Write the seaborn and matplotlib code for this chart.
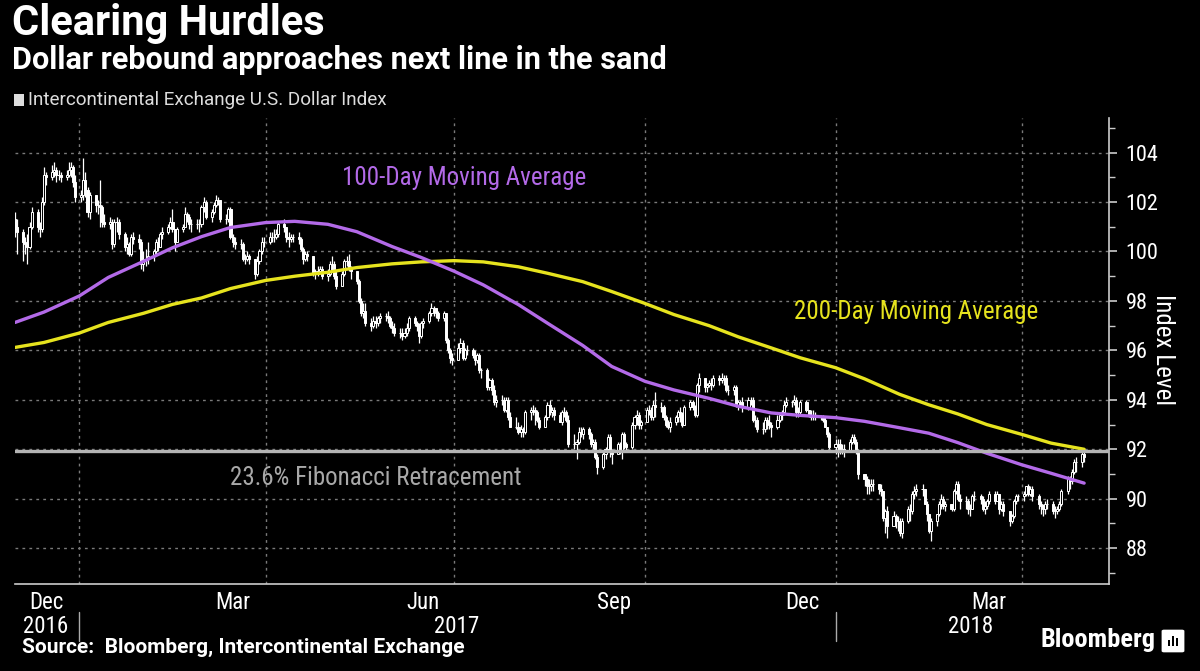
import numpy as np
import pandas as pd
import matplotlib
matplotlib.use('Agg')
import matplotlib.pyplot as plt
import matplotlib.dates as mdates
import matplotlib.transforms as mtransforms
from matplotlib import font_manager
from matplotlib.patches import Rectangle, FancyBboxPatch
import seaborn as sns

# ICE U.S. Dollar Index, daily bars (business days from 2016-12-01)
first_open = 101.3
close_px = [
    101.0, 100.8, 100.4, 100.3, 100.2, 101.0, 101.6, 101.0, 100.9, 102.0, 103.1, 103.0, 103.2, 103.3, 103.1, 103.1, 103.0, 103.1, 103.3, 103.4, 102.8, 102.2,
    102.3, 102.9, 102.5, 101.6, 102.3, 101.9, 101.9, 101.8, 101.2, 101.1, 101.2, 100.3, 101.2, 101.2, 100.7, 100.2, 100.3, 99.9, 100.6, 100.5, 100.4, 99.5,
    99.7, 99.7, 99.8, 100.0, 100.4, 100.2, 100.7, 100.8, 101.0, 101.2, 100.9, 100.4, 100.9, 101.0, 101.5, 101.4, 101.1, 101.1, 101.1, 101.1,
    101.8, 102.0, 101.4, 101.6, 101.9, 102.1, 102.1, 101.3, 101.3, 101.7, 100.6, 100.4, 100.3, 100.3, 99.7, 99.7, 99.8, 99.7, 99.1, 99.6, 100.0, 100.4, 100.4,
    100.6, 100.6, 100.6, 100.7, 101.1, 101.0, 100.6, 100.5, 100.6, 100.6, 100.5, 100.1, 99.7, 99.9, 99.8, 99.1, 99.1, 99.2, 99.3, 99.0,
    99.1, 99.5, 99.5, 99.0, 98.6, 99.1, 99.6, 99.6, 99.3, 99.2, 98.8, 98.0, 97.5, 97.6, 97.1, 97.0, 97.2, 97.1, 97.3, 97.4, 97.4, 97.3, 97.0,
    96.9, 96.7, 96.7, 96.6, 96.7, 96.9, 97.3, 97.1, 97.0, 96.6, 97.1, 97.2, 97.5, 97.7, 97.7, 97.5, 97.3, 97.5, 96.4, 96.0, 95.7, 95.6,
    96.1, 96.3, 95.7, 96.0, 96.0, 95.8, 95.6, 95.8, 95.2, 95.2, 94.5, 94.8, 94.4, 93.9, 94.0, 94.0, 93.6, 94.0, 93.3, 92.9, 92.9,
    92.7, 92.8, 92.7, 93.5, 93.6, 93.6, 93.5, 93.2, 92.9, 93.3, 93.8, 93.5, 93.6, 93.4, 93.1, 93.5, 93.5, 93.2, 92.2, 92.2, 92.3, 92.7, 92.6,
    92.8, 92.6, 92.2, 92.3, 91.7, 91.3, 91.8, 92.0, 92.5, 91.9, 91.8, 92.2, 91.9, 92.6, 92.2, 92.1, 93.0, 93.3, 93.4, 93.0, 93.1,
    93.6, 93.6, 93.3, 93.8, 93.7, 93.7, 93.3, 93.0, 92.9, 93.1, 93.3, 93.5, 93.4, 93.0, 93.7, 93.9, 93.7, 93.4, 94.6, 94.9, 94.5, 94.6,
    94.7, 94.6, 94.9, 94.8, 94.9, 94.9, 94.4, 94.4, 94.5, 93.8, 93.9, 93.9, 93.7, 94.0, 94.0, 93.2, 93.2, 92.8, 92.8, 93.2, 93.1, 93.0,
    92.9, 93.2, 93.4, 93.5, 93.8, 93.9, 93.9, 94.0, 93.5, 93.5, 93.9, 93.6, 93.4, 93.3, 93.4, 93.3, 93.3, 93.2, 92.9, 92.6, 92.1,
    92.2, 92.2, 91.9, 92.0, 91.9, 92.3, 92.5, 92.3, 91.9, 91.0, 90.8, 90.5, 90.5, 90.6, 90.6, 90.4, 90.3, 89.2, 89.5, 88.9, 89.3, 89.1, 89.1,
    88.6, 89.1, 89.6, 89.5, 90.2, 90.3, 90.4, 90.4, 89.8, 89.4, 88.7, 89.1, 89.4, 89.8, 90.0, 89.7, 89.8, 89.6, 90.3, 90.6,
    90.0, 89.9, 89.9, 89.6, 89.6, 90.1, 90.1, 90.0, 89.6, 89.7, 89.9, 90.2, 89.9, 90.2, 89.6, 89.8, 89.5, 89.1, 89.3, 89.9, 90.1, 90.1,
    90.2, 90.5, 90.2, 90.4, 90.1, 89.8, 89.7, 89.6, 89.8, 89.8, 89.5, 89.5, 89.6, 89.8, 90.3, 90.8, 90.7, 91.1, 91.5, 91.5, 91.8, 91.7,
]
high_px = [
    101.6, 101.3, 100.9, 100.6, 100.7, 101.2, 101.8, 101.7, 101.2, 102.2, 103.4, 103.2, 103.5, 103.6, 103.4, 103.3, 103.2, 103.3, 103.6, 103.6, 103.5, 103.1,
    102.5, 103.8, 103.2, 102.6, 102.4, 102.3, 102.1, 102.9, 101.9, 101.5, 101.4, 101.3, 101.3, 101.4, 101.3, 100.8, 100.6, 100.4, 100.7, 100.8, 100.7, 100.5,
    100.0, 100.1, 100.4, 100.1, 100.5, 100.6, 100.8, 101.0, 101.1, 101.4, 101.7, 100.9, 101.0, 101.1, 101.8, 101.6, 101.5, 101.3, 101.3, 101.3,
    101.9, 102.2, 102.1, 101.7, 102.0, 102.3, 102.2, 102.1, 101.5, 101.8, 101.8, 100.7, 100.6, 100.5, 100.4, 99.9, 100.0, 99.9, 99.6, 99.8, 100.1, 100.6, 100.6,
    100.8, 100.8, 100.9, 100.9, 101.2, 101.3, 101.0, 100.8, 100.7, 100.7, 100.8, 100.6, 100.2, 100.0, 100.0, 99.8, 99.3, 99.4, 99.4, 99.4,
    99.3, 99.6, 99.8, 99.6, 99.2, 99.2, 99.7, 99.8, 99.9, 99.4, 99.2, 98.9, 98.1, 97.9, 97.9, 97.3, 97.4, 97.4, 97.4, 97.5, 97.5, 97.6, 97.4,
    97.2, 97.1, 96.9, 96.9, 96.9, 97.1, 97.4, 97.4, 97.2, 97.1, 97.2, 97.3, 97.6, 97.9, 97.8, 97.7, 97.6, 97.6, 97.5, 96.5, 96.1, 95.9,
    96.3, 96.5, 96.4, 96.1, 96.2, 96.1, 96.0, 95.9, 95.9, 95.3, 95.3, 94.9, 94.9, 94.6, 94.2, 94.2, 94.1, 94.1, 94.1, 93.5, 93.3,
    93.1, 93.0, 92.9, 93.6, 93.7, 93.8, 93.7, 93.6, 93.3, 93.4, 93.9, 94.0, 93.7, 93.7, 93.5, 93.6, 93.7, 93.6, 93.4, 92.6, 92.4, 92.9, 92.9,
    92.9, 92.9, 92.7, 92.4, 92.4, 91.8, 91.9, 92.1, 92.6, 92.6, 92.0, 92.3, 92.3, 92.7, 92.7, 92.3, 93.1, 93.4, 93.6, 93.5, 93.2,
    93.7, 93.8, 93.7, 94.0, 94.3, 93.9, 93.8, 93.4, 93.2, 93.3, 93.4, 93.6, 93.7, 93.5, 93.8, 94.0, 94.0, 93.8, 94.7, 95.1, 94.9, 94.7,
    94.8, 94.9, 95.0, 95.0, 95.1, 95.0, 95.0, 94.6, 94.6, 94.6, 94.0, 94.0, 94.1, 94.1, 94.1, 94.1, 93.4, 93.3, 93.1, 93.3, 93.3, 93.4,
    93.1, 93.4, 93.5, 93.6, 94.0, 94.1, 94.0, 94.2, 94.1, 93.7, 94.0, 94.0, 93.6, 93.6, 93.6, 93.5, 93.4, 93.4, 93.3, 92.9, 92.7,
    92.4, 92.4, 92.4, 92.2, 92.2, 92.4, 92.6, 92.6, 92.4, 92.0, 91.0, 90.9, 90.8, 90.8, 90.8, 90.6, 90.6, 90.3, 89.6, 89.7, 89.5, 89.4, 89.3,
    89.2, 89.2, 89.7, 89.8, 90.3, 90.5, 90.6, 90.6, 90.4, 89.9, 89.4, 89.2, 89.4, 89.9, 90.2, 90.1, 89.9, 89.8, 90.4, 90.7,
    90.7, 90.2, 90.1, 90.0, 89.8, 90.2, 90.3, 90.2, 90.1, 89.9, 90.0, 90.3, 90.3, 90.3, 90.2, 89.9, 89.9, 89.5, 89.4, 90.0, 90.2, 90.2,
    90.3, 90.5, 90.6, 90.5, 90.5, 90.2, 89.9, 89.8, 89.9, 90.0, 89.9, 89.7, 89.7, 89.9, 90.4, 90.9, 90.9, 91.2, 91.6, 91.7, 91.9, 92.0,
]
low_px = [
    100.6, 99.9, 99.6, 99.9, 99.5, 100.1, 100.9, 100.8, 100.6, 100.8, 101.9, 102.7, 102.9, 103.0, 102.8, 102.9, 102.8, 102.9, 103.0, 103.0, 102.6, 102.0,
    102.0, 102.1, 102.2, 101.4, 101.3, 101.6, 101.5, 101.0, 101.0, 101.0, 100.9, 100.1, 100.2, 100.8, 100.5, 100.0, 99.9, 99.8, 99.8, 100.3, 100.1, 99.3,
    99.2, 99.4, 99.5, 99.6, 99.9, 100.0, 100.2, 100.5, 100.7, 100.9, 100.8, 100.0, 100.4, 100.8, 101.0, 101.2, 100.9, 100.8, 100.9, 100.8,
    101.0, 101.6, 101.3, 101.2, 101.5, 101.8, 101.9, 101.2, 101.1, 101.2, 100.5, 100.2, 100.1, 100.1, 99.6, 99.5, 99.6, 99.5, 98.9, 99.0, 99.5, 99.9, 100.2,
    100.3, 100.4, 100.4, 100.5, 100.6, 100.8, 100.4, 100.2, 100.4, 100.4, 100.3, 100.0, 99.5, 99.6, 99.6, 99.0, 98.9, 99.0, 99.1, 98.9,
    98.8, 99.0, 99.2, 98.9, 98.5, 98.7, 99.0, 99.4, 99.2, 98.9, 98.7, 97.9, 97.4, 97.3, 97.0, 96.8, 96.9, 96.9, 97.0, 97.1, 97.2, 97.1, 96.9,
    96.7, 96.6, 96.5, 96.4, 96.5, 96.6, 96.8, 97.0, 96.8, 96.3, 96.5, 96.9, 97.1, 97.4, 97.4, 97.3, 97.2, 97.2, 96.3, 95.9, 95.5, 95.4,
    95.6, 95.9, 95.6, 95.6, 95.8, 95.7, 95.4, 95.5, 95.1, 94.9, 94.4, 94.4, 94.2, 93.8, 93.7, 93.8, 93.5, 93.5, 93.2, 92.9, 92.8,
    92.6, 92.5, 92.5, 92.6, 93.2, 93.4, 93.0, 93.1, 92.8, 92.9, 93.2, 93.4, 93.3, 93.2, 93.1, 93.0, 93.3, 93.1, 92.1, 92.0, 91.6, 92.2, 92.5,
    92.4, 92.4, 92.1, 92.0, 91.6, 91.0, 91.2, 91.6, 91.9, 91.7, 91.4, 91.8, 91.8, 91.6, 92.0, 91.9, 92.0, 92.8, 93.0, 92.8, 92.8,
    93.1, 93.4, 93.2, 93.2, 93.3, 93.5, 93.2, 92.9, 92.8, 92.7, 93.0, 93.1, 93.1, 92.9, 93.0, 93.6, 93.6, 93.3, 93.3, 94.3, 94.3, 94.3,
    94.5, 94.4, 94.5, 94.6, 94.7, 94.6, 94.3, 94.2, 94.2, 93.7, 93.6, 93.7, 93.5, 93.6, 93.8, 93.1, 92.9, 92.7, 92.6, 92.7, 92.8, 92.8,
    92.5, 92.8, 93.1, 93.2, 93.4, 93.7, 93.7, 93.8, 93.3, 93.3, 93.4, 93.5, 93.3, 93.2, 93.2, 93.2, 93.2, 93.1, 92.9, 92.5, 92.0,
    91.8, 91.7, 91.8, 91.8, 91.7, 91.9, 92.2, 92.2, 91.8, 90.8, 90.5, 90.2, 90.2, 90.3, 90.3, 90.2, 90.1, 89.1, 88.6, 88.4, 88.9, 88.8, 88.7,
    88.5, 88.4, 89.0, 89.1, 89.4, 90.0, 90.1, 90.1, 89.8, 89.1, 88.6, 88.3, 88.9, 89.3, 89.6, 89.6, 89.5, 89.5, 89.5, 90.2,
    89.9, 89.6, 89.6, 89.4, 89.3, 89.6, 89.9, 89.8, 89.5, 89.4, 89.6, 89.8, 89.8, 89.9, 89.4, 89.5, 89.3, 88.9, 89.0, 89.2, 89.8, 89.9,
    89.9, 90.1, 90.1, 90.1, 89.9, 89.6, 89.4, 89.3, 89.4, 89.6, 89.4, 89.2, 89.4, 89.5, 89.7, 90.2, 90.4, 90.6, 91.0, 91.1, 91.3, 91.5,
]

# moving averages read at the 1st and 15th of each month
ma_dates = ['2016-12-01', '2016-12-15', '2017-01-01', '2017-01-15', '2017-02-01', '2017-02-15',
            '2017-03-01', '2017-03-15', '2017-04-01', '2017-04-15', '2017-05-01', '2017-05-15',
            '2017-06-01', '2017-06-15', '2017-07-01', '2017-07-15', '2017-08-01', '2017-08-15',
            '2017-09-01', '2017-09-15', '2017-10-01', '2017-10-15', '2017-11-01', '2017-11-15',
            '2017-12-01', '2017-12-15', '2018-01-01', '2018-01-15', '2018-02-01', '2018-02-15',
            '2018-03-01', '2018-03-15', '2018-04-01', '2018-04-15', '2018-05-01']
ma100 = [97.13, 97.55, 98.2, 98.95, 99.6, 100.15, 100.6, 100.97, 101.17, 101.22, 101.1, 100.8,
         100.2, 99.76, 99.2, 98.65, 97.85, 97.1, 96.2, 95.35, 94.75, 94.4, 94.06, 93.74,
         93.47, 93.37, 93.28, 93.13, 92.87, 92.65, 92.27, 91.84, 91.37, 91.03, 90.63]
ma200 = [96.12, 96.32, 96.7, 97.13, 97.5, 97.86, 98.12, 98.5, 98.83, 99.0, 99.16, 99.35,
         99.5, 99.58, 99.63, 99.58, 99.38, 99.12, 98.78, 98.38, 97.9, 97.45, 97.0, 96.55,
         96.1, 95.7, 95.3, 94.85, 94.22, 93.8, 93.43, 93.0, 92.6, 92.25, 92.0]

fib_level = 91.92

month_labels = ['Dec', 'Mar', 'Jun', 'Sep', 'Dec', 'Mar']
month_label_dates = ['2016-12-16', '2017-03-16', '2017-06-16', '2017-09-16', '2017-12-16', '2018-03-16']
year_labels = ['2016', '2017', '2018']
year_label_dates = ['2016-12-16', '2017-07-02', '2018-03-07']

PURPLE = '#b36ae8'
YELLOW = '#e6e31e'
GREY = '#b4b4b4'

sns.set_theme(style='dark', rc={'figure.facecolor': 'black', 'axes.facecolor': 'black',
                                'text.color': 'white', 'axes.edgecolor': '#cccccc',
                                'xtick.color': '#cccccc', 'ytick.color': '#cccccc'})

names = {f.name for f in font_manager.fontManager.ttflist}
family = 'DejaVu Sans'
for cand in ['Roboto Condensed', 'Liberation Sans Narrow', 'Open Sans Condensed', 'Noto Sans Condensed']:
    if cand in names:
        family = cand
        break
plt.rcParams['font.family'] = [family, 'DejaVu Sans']
if family == 'DejaVu Sans':
    plt.rcParams['font.stretch'] = 'condensed'
head = ['Roboto', 'DejaVu Sans']

n = min(len(close_px), len(high_px), len(low_px))
c = np.array(close_px[:n])
h = np.array(high_px[:n])
l = np.array(low_px[:n])
o = np.r_[first_open, c[:-1]]
dates = pd.bdate_range('2016-12-01', periods=n)
xd = mdates.date2num(dates)
up = c >= o

fig = plt.figure(figsize=(12, 6.71), dpi=100)
W, H = 1200, 671
ax = fig.add_axes([15 / W, 1 - 584 / H, (1109 - 15) / W, (584 - 118) / H])

ax.vlines(xd, l, h, color='white', lw=0.9, zorder=3)
ax.bar(xd[up], (c - o)[up], bottom=o[up], width=1.0, facecolor='black', edgecolor='white', lw=0.7, zorder=4)
ax.bar(xd[~up], (o - c)[~up], bottom=c[~up], width=1.0, facecolor='white', edgecolor='white', lw=0.7, zorder=4)

ma = pd.DataFrame({'date': mdates.date2num(pd.to_datetime(ma_dates)), 'ma100': ma100, 'ma200': ma200})
sns.lineplot(data=ma, x='date', y='ma200', color=YELLOW, lw=2.4, ax=ax, zorder=5)
sns.lineplot(data=ma, x='date', y='ma100', color=PURPLE, lw=2.4, ax=ax, zorder=6)
ax.axhline(fib_level, color=GREY, lw=2.4, zorder=7)

ax.set_xlim(mdates.date2num(pd.Timestamp('2016-12-01')), mdates.date2num(pd.Timestamp('2018-05-13')))
ax.set_ylim(86.55, 105.4)

# grid
for q in pd.date_range('2017-01-01', '2018-04-01', freq='QS'):
    ax.axvline(mdates.date2num(q), color='#7a7a7a', lw=1, ls=(0, (2, 3)), zorder=1)
ax.yaxis.grid(True, which='major', color='#7a7a7a', lw=1, ls=(0, (2, 3)))
ax.xaxis.grid(False)

ax.yaxis.tick_right()
ax.set_yticks(np.arange(88, 105, 2))
ax.set_yticks(np.arange(87, 106, 1), minor=True)
ax.tick_params(axis='y', which='major', length=6, width=1.2, labelsize=16, labelcolor='white', pad=6)
ax.tick_params(axis='y', which='minor', length=4, width=1.0)

ax.xaxis.set_major_locator(mdates.MonthLocator())
ax.xaxis.set_major_formatter(plt.NullFormatter())
ax.xaxis.set_minor_locator(plt.FixedLocator(mdates.date2num(pd.to_datetime(month_label_dates))))
ax.xaxis.set_minor_formatter(plt.FixedFormatter(month_labels))
ax.tick_params(axis='x', which='major', direction='in', length=5, width=1.0)
ax.tick_params(axis='x', which='minor', length=0, labelsize=16.5, labelcolor='white', pad=5)

for s in ['top', 'left']:
    ax.spines[s].set_visible(False)
for s in ['bottom', 'right']:
    ax.spines[s].set_color('#cccccc')
    ax.spines[s].set_linewidth(1.2)
ax.set_xlabel('')
ax.set_ylabel('')

trans = mtransforms.blended_transform_factory(ax.transData, ax.transAxes)
for lab, d in zip(year_labels, year_label_dates):
    ax.text(mdates.date2num(pd.Timestamp(d)), -0.092, lab, transform=trans, ha='center', va='center',
            fontsize=16.5, color='white')
for d in ['2017-01-01', '2018-01-01']:
    xx = mdates.date2num(pd.Timestamp(d))
    ax.plot([xx, xx], [-0.06, -0.122], transform=trans, color='#aaaaaa', lw=1, clip_on=False)

ax.text(mdates.date2num(pd.Timestamp('2017-05-08')), 102.99, '100-Day Moving Average',
        color=PURPLE, fontsize=18, ha='left', va='center')
ax.text(mdates.date2num(pd.Timestamp('2017-12-12')), 97.54, '200-Day Moving Average',
        color=YELLOW, fontsize=18, ha='left', va='center')
ax.text(mdates.date2num(pd.Timestamp('2017-03-15')), 90.83, '23.6% Fibonacci Retracement',
        color='#a8a8a8', fontsize=18, ha='left', va='center')

fig.text(1163 / W, 1 - 350 / H, 'Index Level', rotation=270, ha='center', va='center', fontsize=18, color='white')

fig.text(12 / W, 1 - 24 / H, 'Clearing Hurdles', fontsize=30, weight='bold', va='center', color='white',
         family=head)
fig.text(12 / W, 1 - 60 / H, 'Dollar rebound approaches next line in the sand', fontsize=22.1,
         weight='bold', va='center', color='white', family=head)
fig.add_artist(Rectangle((14 / W, 1 - 106 / H), 10 / W, 12 / H, transform=fig.transFigure,
                         facecolor='#dddddd', edgecolor='none'))
fig.text(28 / W, 1 - 100 / H, 'Intercontinental Exchange U.S. Dollar Index', fontsize=13.6,
         va='center', color='#dddddd', family=head)
fig.text(22 / W, 1 - 647 / H, 'Source:  Bloomberg, Intercontinental Exchange', fontsize=15,
         weight='bold', va='center', color='white', family=head)
fig.text(1155 / W, 1 - 640 / H, 'Bloomberg', fontsize=19, weight='bold', ha='right', va='center', color='white')
fig.add_artist(FancyBboxPatch((1164 / W, 1 - 651 / H), 18 / W, 20 / H, boxstyle='round,pad=0.002',
                              transform=fig.transFigure, facecolor='white', edgecolor='none'))
for bx, bh in [(1168, 6), (1172, 10), (1176, 8)]:
    fig.add_artist(Rectangle((bx / W, 1 - 646 / H), 2 / W, bh / H, transform=fig.transFigure,
                             facecolor='black', edgecolor='none'))

fig.savefig('out.png', dpi=100, facecolor='black')
